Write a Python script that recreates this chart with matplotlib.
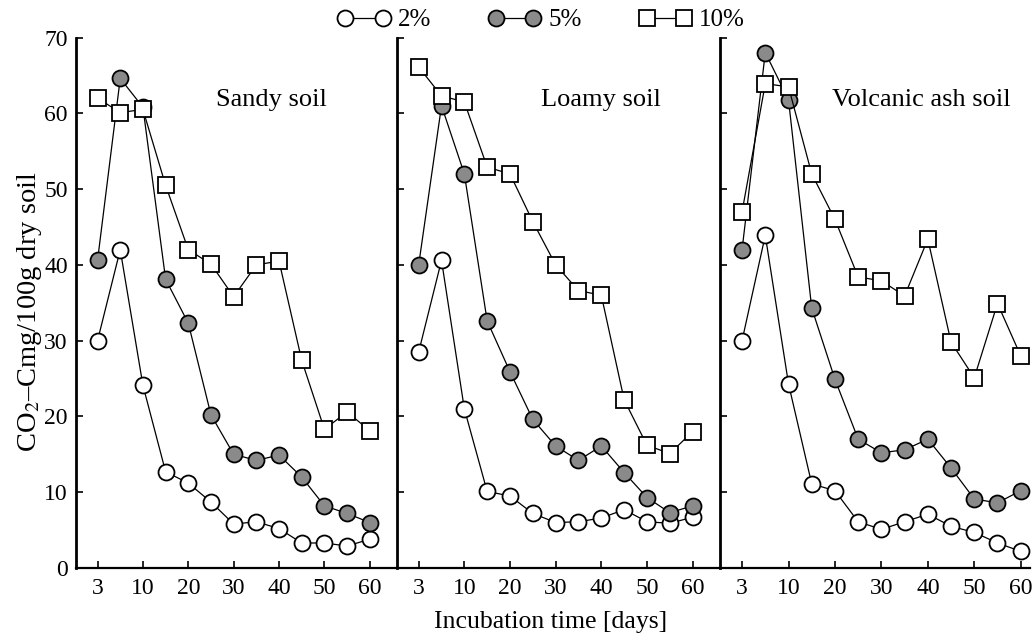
import numpy as np
import matplotlib
matplotlib.use("Agg")
import matplotlib.pyplot as plt
from matplotlib.lines import Line2D

# ---- data -------------------------------------------------------------
days = [3, 5, 10, 15, 20, 25, 30, 35, 40, 45, 50, 55, 60]
tick_days = [3, 10, 20, 30, 40, 50, 60]
rates = ["2%", "5%", "10%"]
soils = ["Sandy soil", "Loamy soil", "Volcanic ash soil"]

sandy_2 = [30.0, 42.0, 24.1, 12.7, 11.2, 8.7, 5.8, 6.1, 5.2, 3.3, 3.3, 2.9, 3.8]
sandy_5 = [40.6, 64.6, 60.8, 38.1, 32.3, 20.2, 15.0, 14.2, 14.9, 12.0, 8.2, 7.2, 6.0]
sandy_10 = [62.0, 60.1, 60.5, 50.5, 42.0, 40.1, 35.8, 40.0, 40.5, 27.4, 18.3, 20.6, 18.1]

loamy_2 = [28.5, 40.6, 21.0, 10.1, 9.5, 7.2, 6.0, 6.1, 6.6, 7.7, 6.1, 5.9, 6.7]
loamy_5 = [40.0, 61.0, 52.0, 32.6, 25.9, 19.6, 16.1, 14.2, 16.1, 12.6, 9.3, 7.3, 8.2]
loamy_10 = [66.1, 62.3, 61.5, 52.9, 52.0, 45.7, 40.0, 36.6, 36.0, 22.2, 16.2, 15.1, 18.0]

volcanic_2 = [30.0, 43.9, 24.3, 11.1, 10.2, 6.1, 5.1, 6.1, 7.1, 5.5, 4.7, 3.3, 2.2]
volcanic_5 = [42.0, 68.0, 61.8, 34.3, 24.9, 17.0, 15.2, 15.6, 17.0, 13.2, 9.1, 8.6, 10.2]
volcanic_10 = [47.0, 63.9, 63.5, 52.0, 46.0, 38.4, 37.9, 35.9, 43.4, 29.8, 25.1, 34.9, 28.0]

panel_data = [
    (sandy_2, sandy_5, sandy_10),
    (loamy_2, loamy_5, loamy_10),
    (volcanic_2, volcanic_5, volcanic_10),
]

# ---- style ------------------------------------------------------------
plt.rcParams["font.family"] = ["Liberation Serif", "DejaVu Serif"]
plt.rcParams["mathtext.fontset"] = "stix"

W, H = 1033, 639
fig = plt.figure(figsize=(W / 100, H / 100), dpi=100)

gray = "#8a8a8a"
styles = [
    dict(marker="o", mfc="white", mec="black", ms=11.5),
    dict(marker="o", mfc=gray, mec="black", ms=11.5),
    dict(marker="s", mfc="white", mec="black", ms=11.5),
]

# axes boxes in pixels: (left, right, xmax)
boxes = [(76, 397, 13.2), (397, 720, 13.2), (720, 1030, 12.4)]
y_top, y_bot = 37.5, 568

xpos = np.arange(len(days))
tick_pos = [days.index(d) for d in tick_days]

axes = []
for i, ((x0, x1, xr), series, title) in enumerate(zip(boxes, panel_data, soils)):
    ax = fig.add_axes([x0 / W, (H - y_bot) / H, (x1 - x0) / W, (y_bot - y_top) / H])
    axes.append(ax)
    for vals, st in zip(series, styles):
        ax.plot(xpos, vals, color="black", lw=0.9, mew=1.3, clip_on=False, **st)
    ax.set_xlim(-0.95, xr)
    ax.set_ylim(0, 70)
    ax.set_xticks(tick_pos)
    ax.set_xticklabels([str(d) for d in tick_days])
    ax.set_yticks(np.arange(0, 71, 10))
    ax.tick_params(direction="in", length=5, width=1.2, labelsize=17, pad=6)
    ax.tick_params(axis="x", pad=7)
    if i > 0:
        ax.tick_params(axis="y", labelleft=False)
    for s in ("top", "right"):
        ax.spines[s].set_visible(False)
    ax.spines["left"].set_linewidth(2.0)
    ax.spines["bottom"].set_linewidth(1.6)
    ax.patch.set_alpha(0)
    tx = {0: 0.61, 1: 0.63, 2: 0.65}[i]
    ax.text(tx, 0.883, title, transform=ax.transAxes, ha="center", va="center",
            fontsize=19)

fig.text(30 / W, 1 - 312 / H, "CO$_2$–Cmg/100g dry soil", rotation=90,
         ha="center", va="center", fontsize=20.5)
fig.text(551 / W, 1 - 622 / H, "Incubation time [days]", ha="center", va="center",
         fontsize=18.5)

handles = [Line2D([], [], color="black", lw=0.9, mew=1.3, **st) for st in styles]
fig.legend(handles, rates, loc="center left", bbox_to_anchor=(337.5 / W, 1 - 20 / H),
           ncol=3, frameon=False, numpoints=2, handlelength=2.1, handletextpad=0.3,
           columnspacing=2.3, borderpad=0, borderaxespad=0, fontsize=18)

fig.savefig("out.png", dpi=100)
